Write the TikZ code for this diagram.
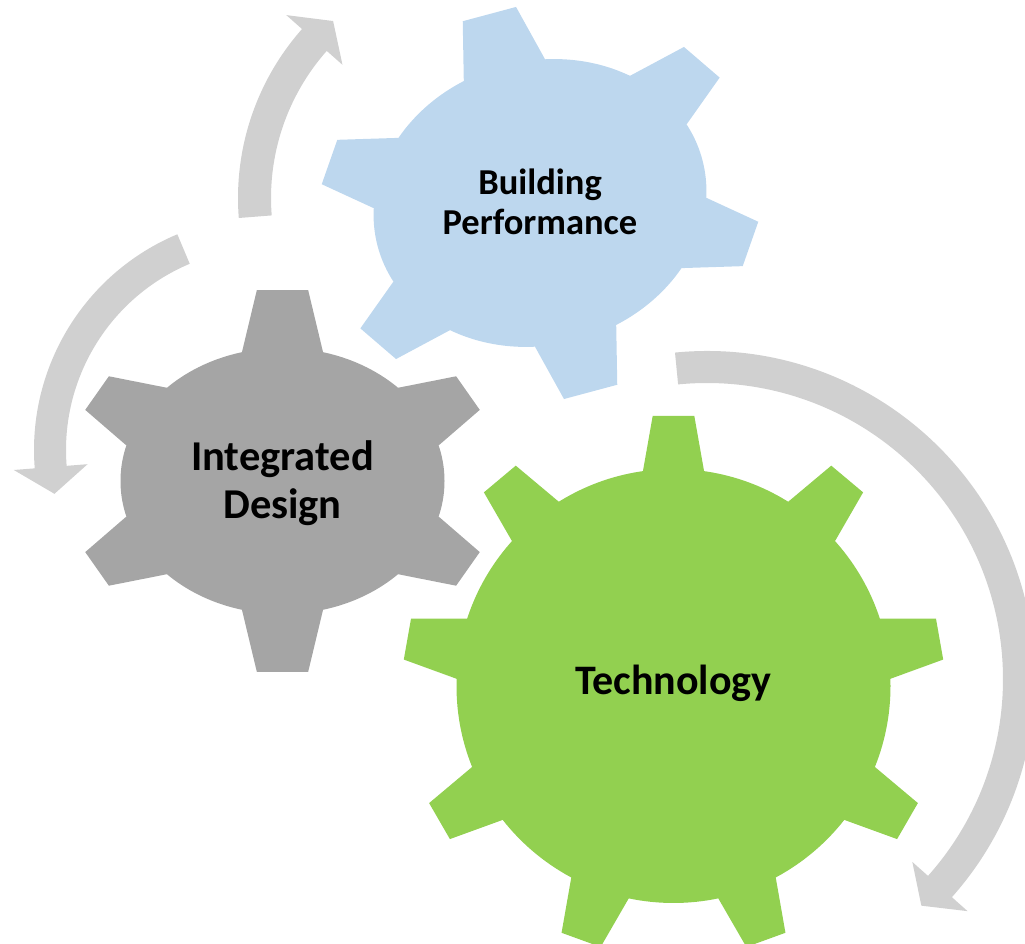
\documentclass[tikz,border=0pt]{standalone}
\usepackage{fontspec}
\setmainfont{Carlito}
\usetikzlibrary{calc}

\definecolor{perfblue}{HTML}{BDD7EE}
\definecolor{designgray}{HTML}{A5A5A5}
\definecolor{techgreen}{HTML}{92D050}
\definecolor{cyclegray}{HTML}{D0D0D0}

% #1 centre, #2 inner radius, #3 outer radius, #4 tail angle, #5 head angle, #6 tip angle
\newcommand{\cyclearrow}[6]{%
  \fill[cycle arrow, shift={(#1)}] ({#4}:{#3}) arc[start angle=#4, end angle=#5, radius=#3]
    -- ({#5}:{#3+21}) -- ({#6}:{(#2+#3)/2}) -- ({#5}:{#2-21}) -- ({#5}:{#2})
    arc[start angle=#5, end angle=#4, radius=#2] -- cycle;
}

\begin{document}
\begin{tikzpicture}[x=1pt,y=1pt]
  \tikzstyle{cycle arrow}=[fill=cyclegray]
  \tikzstyle{cog text}=[align=center, text=black]

  \useasboundingbox (0,0) rectangle (1025,944);
  \clip (0,0) rectangle (1025,944);

  \coordinate (bp) at (540,741);
  \coordinate (id) at (282.5,463);
  \coordinate (te) at (673.5,258);

  % gears
  \begin{scope}[shift={(bp)}, rotate=15, xscale=168, yscale=142]
    \fill[perfblue] (0,0) circle[radius=1];
    \foreach \a/\R in {90/1.387,30/1.334,-30/1.334,-90/1.387,-150/1.334,150/1.334}
      \fill[perfblue] (\a:0.7) -- (\a-14.5:1) -- (\a-6.8:\R) -- (\a+6.8:\R) -- (\a+14.5:1) -- cycle;
  \end{scope}

  \begin{scope}[shift={(id)}, xscale=162, yscale=133]
    \fill[designgray] (0,0) circle[radius=1];
    \foreach \a/\R in {90/1.444,30/1.33,-30/1.33,-90/1.444,-150/1.33,150/1.33}
      \fill[designgray] (\a:0.7) -- (\a-14.5:1) -- (\a-6.3:\R) -- (\a+6.3:\R) -- (\a+14.5:1) -- cycle;
  \end{scope}

  \begin{scope}[shift={(te)}]
    \fill[techgreen] (0,0) circle[radius=217];
    \foreach \a in {90,50,...,-230}
      \fill[techgreen] (\a:150) -- (\a-8.1:217) -- (\a-4.4:271) -- (\a+4.4:271) -- (\a+8.1:217) -- cycle;
  \end{scope}

  % arrows
  \cyclearrow{493,746}{222}{255}{184.5}{138.5}{132.1}
  \cyclearrow{268,494}{202}{234}{112.8}{184.5}{191.6}
  \cyclearrow{707,265}{296}{328}{95.6}{-41.7}{-46.6}

  \node[cog text, font=\bfseries\fontsize{36.5}{40}\selectfont] (bp-text) at (540,742) {Building\\Performance};
  \node[cog text, font=\bfseries\fontsize{42.5}{48}\selectfont] (id-text) at (282.5,461) {Integrated\\Design};
  \node[cog text, font=\bfseries\fontsize{42}{48}\selectfont] (te-text) at (673.5,261) {Technology};
\end{tikzpicture}
\end{document}
